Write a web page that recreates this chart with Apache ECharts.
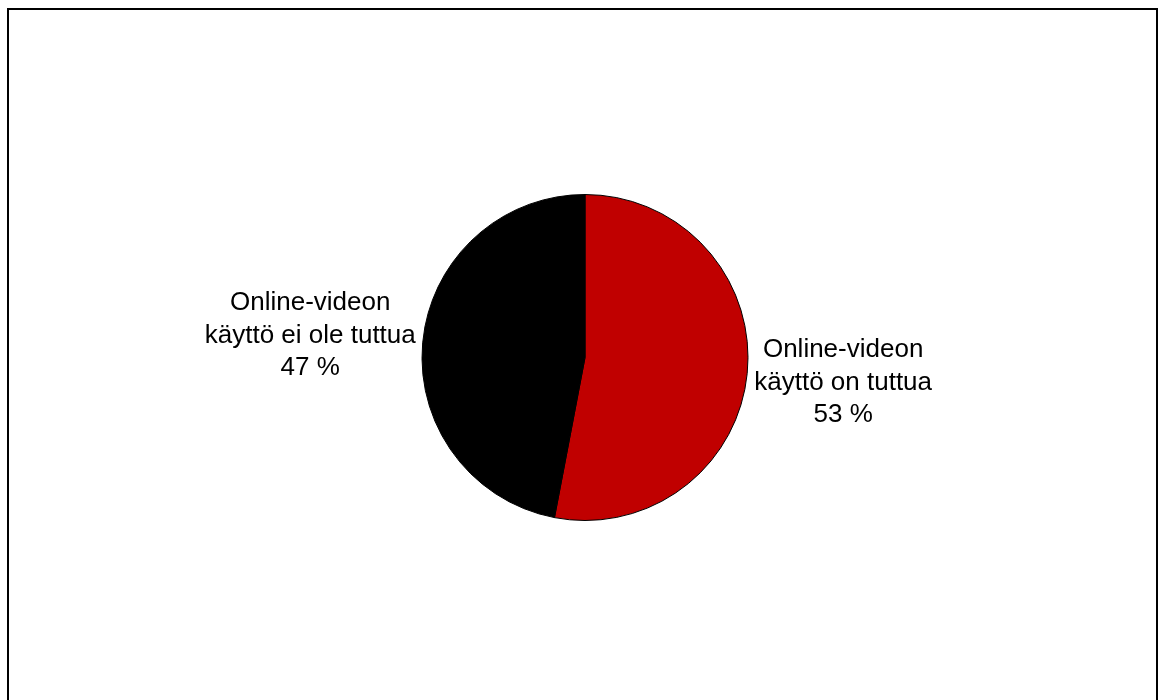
<!DOCTYPE html>
<html>
<head>
<meta charset="utf-8">
<script src="https://cdn.jsdelivr.net/npm/echarts@6/dist/echarts.min.js"></script>
<style>
  html, body { margin: 0; padding: 0; background: #fff; }
  #chart { width: 1162px; height: 700px; }
</style>
</head>
<body>
<div id="chart"></div>
<script>
// Online video usage familiarity (share of respondents)
const categories = ['Online-videon\nkäyttö on tuttua', 'Online-videon\nkäyttö ei ole tuttua'];
const values = [53, 47];
const colors = ['#C00000', '#000000'];

const CX = 585, CY = 357.5, R = 163, GAP = 7;
const total = values.reduce((a, b) => a + b, 0);

// mid-angle of each slice, clockwise from 12 o'clock
const midAngles = [];
let acc = 0;
values.forEach(v => {
  midAngles.push((acc + v / 2) / total * 2 * Math.PI);
  acc += v;
});

const chart = echarts.init(document.getElementById('chart'));
chart.setOption({
  backgroundColor: '#ffffff',
  animation: false,
  graphic: [{
    type: 'polyline',
    shape: { points: [[8, 710], [8, 9], [1157, 9], [1157, 710]] },
    style: { stroke: '#000', lineWidth: 2, fill: null }
  }],
  series: [{
    type: 'pie',
    center: [CX, CY],
    radius: [0, R],
    startAngle: 90,
    clockwise: true,
    data: categories.map((name, i) => ({
      name, value: values[i], itemStyle: { color: colors[i] }
    })),
    itemStyle: { borderColor: '#000', borderWidth: 1 },
    label: {
      show: true,
      position: 'outside',
      formatter: p => p.name + '\n' + p.value + ' %',
      fontFamily: 'Liberation Sans, Arial, sans-serif',
      fontSize: 26,
      lineHeight: 32.5,
      color: '#000',
      align: 'center'
    },
    labelLine: { show: false },
    // labels sit just beside the pie edge, along each slice's mid-angle
    labelLayout: function (params) {
      const a = midAngles[params.dataIndex];
      const w = params.labelRect.width;
      const s = Math.sin(a) >= 0 ? 1 : -1;
      return {
        x: CX + Math.sin(a) * (R + GAP) + s * w / 2,
        y: CY - Math.cos(a) * (R + 72) + (s > 0 ? 3 : 0),
        align: 'center',
        verticalAlign: 'middle'
      };
    },
    emphasis: { disabled: true }
  }]
});
</script>
</body>
</html>
